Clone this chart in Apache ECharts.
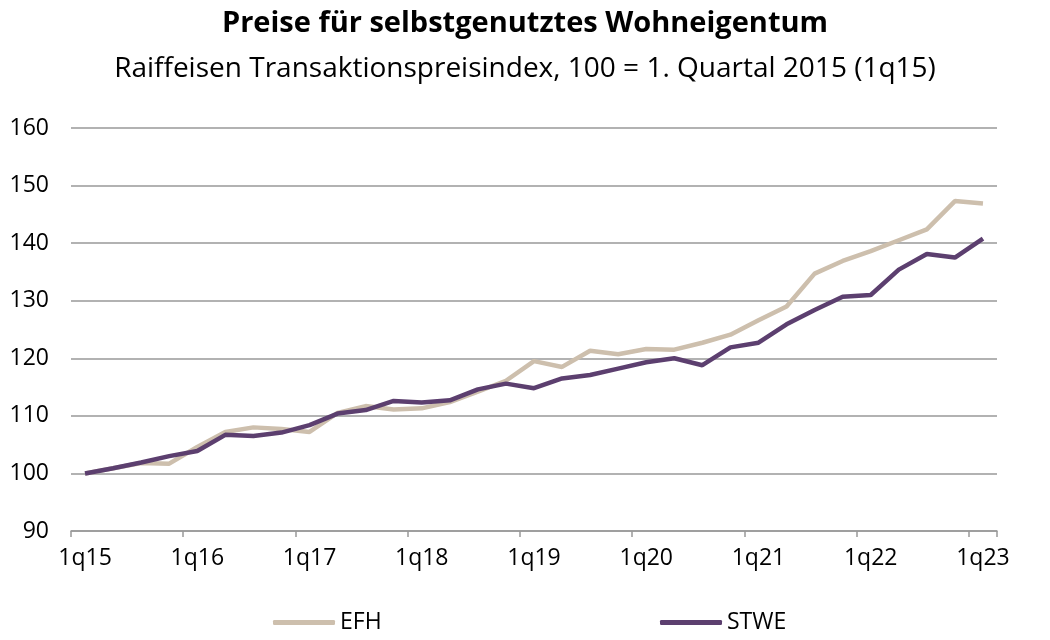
<!DOCTYPE html>
<html>
<head>
<meta charset="utf-8">
<script src="https://cdn.jsdelivr.net/npm/echarts@6/dist/echarts.min.js"></script>
<style>html,body{margin:0;padding:0;background:#fff}#c{width:1050px;height:640px}</style>
</head>
<body>
<div id="c"></div>
<script>
const categories = ['1q15','2q15','3q15','4q15','1q16','2q16','3q16','4q16','1q17','2q17','3q17','4q17',
  '1q18','2q18','3q18','4q18','1q19','2q19','3q19','4q19','1q20','2q20','3q20','4q20',
  '1q21','2q21','3q21','4q21','1q22','2q22','3q22','4q22','1q23'];
const efh = [100, 100.9, 101.8, 101.7, 104.6, 107.2, 108.0, 107.7, 107.2, 110.5, 111.7, 111.1,
  111.3, 112.4, 114.2, 116.1, 119.5, 118.5, 121.3, 120.7, 121.6, 121.5, 122.7, 124.1,
  126.6, 129.0, 134.7, 136.9, 138.6, 140.5, 142.4, 147.3, 146.9];
const stwe = [100, 100.9, 101.9, 103.0, 103.9, 106.7, 106.5, 107.1, 108.4, 110.4, 111.0, 112.6,
  112.3, 112.7, 114.6, 115.6, 114.8, 116.5, 117.1, 118.2, 119.3, 120.0, 118.8, 121.9,
  122.7, 125.9, 128.4, 130.7, 131.0, 135.4, 138.1, 137.5, 140.8];
const yTicks = {min: 90, max: 160, interval: 10};

const FONT = '"Open Sans", "DejaVu Sans", sans-serif';
const chart = echarts.init(document.getElementById('c'), null, {renderer: 'canvas'});
chart.setOption({
  backgroundColor: '#fff',
  animation: false,
  title: [
    {text: 'Preise für selbstgenutztes Wohneigentum', left: 'center', top: 4,
     textStyle: {fontFamily: FONT, fontSize: 29, fontWeight: 'bold', color: '#000'}},
    {text: 'Raiffeisen Transaktionspreisindex, 100 = 1. Quartal 2015 (1q15)', left: 'center', top: 50,
     textStyle: {fontFamily: FONT, fontSize: 28, fontWeight: 'normal', color: '#000'}}
  ],
  legend: [
    {data: ['EFH'], left: 268, bottom: 1, itemWidth: 62, itemHeight: 5, icon: 'roundRect', itemGap: 8,
     textStyle: {fontFamily: FONT, fontSize: 23, color: '#000'}},
    {data: ['STWE'], left: 655, bottom: 1, itemWidth: 62, itemHeight: 5, icon: 'roundRect', itemGap: 8,
     textStyle: {fontFamily: FONT, fontSize: 23, color: '#000'}}
  ],
  grid: {left: 71, right: 53, top: 128, bottom: 109, containLabel: false},
  xAxis: {
    type: 'category', data: categories, boundaryGap: true,
    axisLine: {show: true, lineStyle: {color: '#999', width: 1.5}},
    axisTick: {show: true, interval: 3, length: 6, lineStyle: {color: '#999', width: 1.5}},
    axisLabel: {interval: 3, margin: 16, fontFamily: FONT, fontSize: 23, color: '#000'},
    splitLine: {show: false}
  },
  yAxis: {
    type: 'value', min: yTicks.min, max: yTicks.max, interval: yTicks.interval,
    axisLine: {show: false}, axisTick: {show: false},
    axisLabel: {margin: 22, fontFamily: FONT, fontSize: 23, color: '#000'},
    splitLine: {show: true, lineStyle: {color: '#999', width: 1.5}}
  },
  series: [
    {name: 'EFH', type: 'line', data: efh, symbol: 'none', smooth: false,
     lineStyle: {color: '#CDBFAD', width: 4.5}, itemStyle: {color: '#CDBFAD'}},
    {name: 'STWE', type: 'line', data: stwe, symbol: 'none', smooth: false,
     lineStyle: {color: '#5C3F6F', width: 4.5}, itemStyle: {color: '#5C3F6F'}}
  ]
});
</script>
</body>
</html>
